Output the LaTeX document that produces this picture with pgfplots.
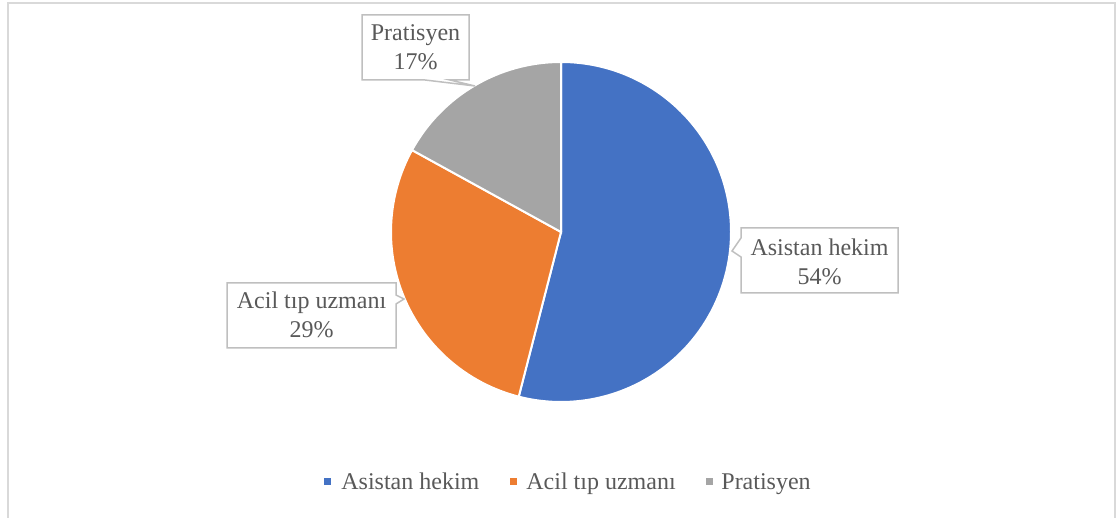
\documentclass[border=0pt]{standalone}
\usepackage{fontspec}
\setmainfont{Liberation Serif}
\usepackage{pgfplots}
\usepackage{pgfplotstable}
\pgfplotsset{compat=1.18}
\definecolor{cA}{HTML}{4472C4}
\definecolor{cB}{HTML}{ED7D31}
\definecolor{cC}{HTML}{A5A5A5}
\definecolor{txt}{HTML}{595959}
\definecolor{frm}{HTML}{D9D9D9}
\definecolor{boxc}{HTML}{BFBFBF}
\pgfplotstableread{
value
54
29
17
}\piedata
\begin{document}
\begin{tikzpicture}
\pgfplotstablegetelem{0}{value}\of\piedata \edef\va{\pgfplotsretval}
\pgfplotstablegetelem{1}{value}\of\piedata \edef\vb{\pgfplotsretval}
\pgfplotstablegetelem{2}{value}\of\piedata \edef\vc{\pgfplotsretval}
\pgfmathsetmacro\aA{90}
\pgfmathsetmacro\aB{90-3.6*\va}
\pgfmathsetmacro\aC{\aB-3.6*\vb}
\pgfmathsetmacro\aD{\aC-3.6*\vc}
\begin{axis}[hide axis, scale only axis, width=560pt, height=259pt,
  xmin=0, xmax=1120, ymin=0, ymax=518, clip=false,
  font=\fontsize{12}{14.5}\selectfont]
\path (axis cs:0,0) rectangle (axis cs:1120,518);
\draw[frm, line width=0.8pt] (axis cs:8,0) -- (axis cs:8,515) -- (axis cs:1115,515) -- (axis cs:1115,0);
\coordinate (O) at (axis cs:561,286);
\filldraw[fill=cA, draw=white, line width=1pt] (O) -- ++(\aA:85pt) arc[start angle=\aA, end angle=\aB, radius=85pt] -- cycle;
\filldraw[fill=cB, draw=white, line width=1pt] (O) -- ++(\aB:85pt) arc[start angle=\aB, end angle=\aC, radius=85pt] -- cycle;
\filldraw[fill=cC, draw=white, line width=1pt] (O) -- ++(\aC:85pt) arc[start angle=\aC, end angle=\aD, radius=85pt] -- cycle;
% callouts
\filldraw[fill=white, draw=boxc, line width=0.75pt] (axis cs:741,290) -- (axis cs:898,290) -- (axis cs:898,225) -- (axis cs:741,225) -- (axis cs:741,261) -- (axis cs:732,267) -- (axis cs:741,280) -- cycle;
\node[txt, align=center] at (axis cs:819.5,256) {Asistan hekim\\\va\%};
\filldraw[fill=white, draw=boxc, line width=0.75pt] (axis cs:227,235) -- (axis cs:396,235) -- (axis cs:396,223) -- (axis cs:404,219) -- (axis cs:396,214) -- (axis cs:396,170) -- (axis cs:227,170) -- cycle;
\node[txt, align=center] at (axis cs:311.5,203) {Acil tıp uzmanı\\\vb\%};
\filldraw[fill=white, draw=boxc, line width=0.75pt] (axis cs:362,503) -- (axis cs:469,503) -- (axis cs:469,438) -- (axis cs:450,438) -- (axis cs:475,432) -- (axis cs:425,438) -- (axis cs:362,438) -- cycle;
\node[txt, align=center] at (axis cs:415.5,471) {Pratisyen\\\vc\%};
% legend
\fill[cA] (axis cs:323.5,32.5) rectangle (axis cs:330.5,39.5);
\node[txt, anchor=base west, inner sep=0pt] at (axis cs:341,28) {Asistan hekim};
\fill[cB] (axis cs:509.5,32.5) rectangle (axis cs:516.5,39.5);
\node[txt, anchor=base west, inner sep=0pt] at (axis cs:526,28) {Acil tıp uzmanı};
\fill[cC] (axis cs:705.5,32.5) rectangle (axis cs:712.5,39.5);
\node[txt, anchor=base west, inner sep=0pt] at (axis cs:721,28) {Pratisyen};
\end{axis}
\end{tikzpicture}
\end{document}
